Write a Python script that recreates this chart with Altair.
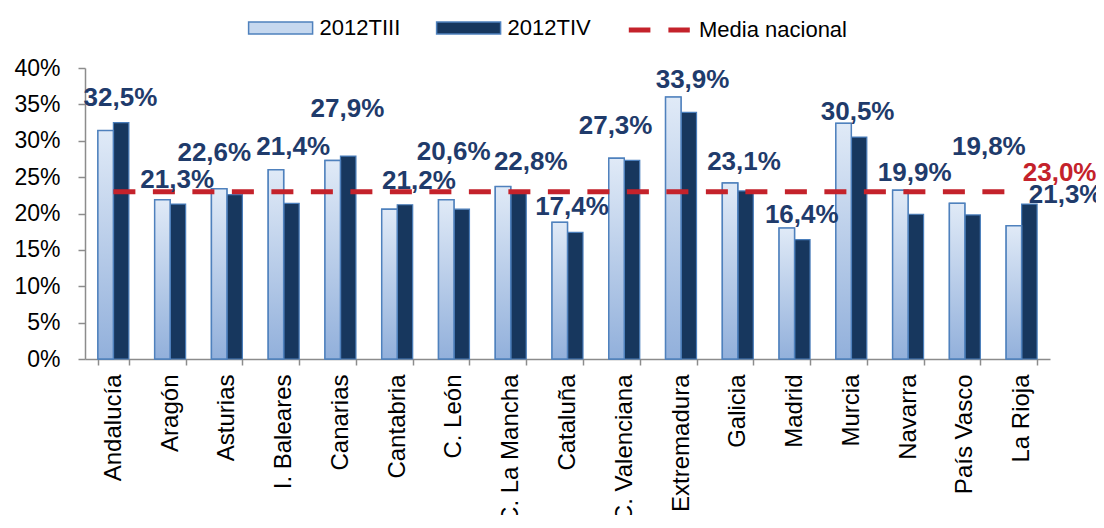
import altair as alt
import pandas as pd

regions = ["Andalucía", "Aragón", "Asturias", "I. Baleares", "Canarias", "Cantabria",
           "C. León", "C. La Mancha", "Cataluña", "C. Valenciana", "Extremadura",
           "Galicia", "Madrid", "Murcia", "Navarra", "País Vasco", "La Rioja"]
t3 = [31.4, 21.9, 23.4, 26.0, 27.3, 20.6, 21.9, 23.7, 18.8, 27.6, 36.0,
      24.2, 18.0, 32.4, 23.2, 21.4, 18.3]
t4 = [32.5, 21.3, 22.6, 21.4, 27.9, 21.2, 20.6, 22.8, 17.4, 27.3, 33.9,
      23.1, 16.4, 30.5, 19.9, 19.8, 21.3]
media = 23.0
series = ["2012TIII", "2012TIV"]
media_name = "Media nacional"

# label placement (in % units on the y scale, and pixel nudges)
label_y = [35.85, 24.6, 28.3, 29.1, 34.3, 24.45, 28.4, 27.1, 20.9, 32.0, 38.3,
           27.1, 19.8, 33.9, 25.5, 29.1, 22.6]
label_dx = [7, 7, -12.6, 9.5, 7, 21.7, -0.3, 20, 4.5, -8.7, 11.5,
            6.2, 7.2, 6.3, 6.6, 24, 44]
media_label_y = 25.6
media_label_dx = 38

FONT = "Liberation Sans"
NAVY = "#17375e"
LABEL_NAVY = "#1f3b6b"
RED = "#c4222b"
GRAY = "#8c8c8c"


def fmt(v):
    return f"{v:.1f}".replace(".", ",") + "%"


rows = []
for r, a, b in zip(regions, t3, t4):
    rows.append({"region": r, "series": series[0], "value": a})
    rows.append({"region": r, "series": series[1], "value": b})
bars_df = pd.DataFrame(rows)
line_df = pd.DataFrame({"region": regions, "media": [media] * len(regions),
                        "s": [media_name] * len(regions)})

xscale = alt.Scale(domain=regions, paddingInner=0.454, paddingOuter=0.227)
yscale = alt.Scale(domain=[0, 40], nice=False)
xoff_scale = alt.Scale(domain=series, paddingInner=0, paddingOuter=0)

x_axis = alt.Axis(title=None, labelAngle=-90, labelFontSize=24, labelFont=FONT,
                  labelColor="black", domainColor=GRAY, tickColor=GRAY,
                  tickSize=6, tickBand="extent", labelPadding=9,
                  labelLimit=400, domainWidth=1.5, tickWidth=1.5)
y_axis = alt.Axis(title=None, values=[0, 5, 10, 15, 20, 25, 30, 35, 40],
                  labelExpr="datum.value + '%'", labelFontSize=23,
                  labelFont=FONT, labelColor="black", grid=False, labelOverlap=False,
                  domainColor=GRAY, tickColor=GRAY, tickSize=7,
                  labelPadding=18, domainWidth=1.5, tickWidth=1.5)


def X():
    return alt.X("region:N", sort=regions, scale=xscale, axis=x_axis)


def Y(field):
    return alt.Y(field, scale=yscale, axis=y_axis)


bars = alt.Chart(bars_df).mark_bar(stroke="#4a7ebb", strokeWidth=1.2).encode(
    x=X(),
    xOffset=alt.XOffset("series:N", scale=xoff_scale),
    y=Y("value:Q"),
    fill=alt.Fill("series:N",
                  scale=alt.Scale(domain=series, range=["#c6d8ef", NAVY]),
                  legend=alt.Legend(title=None, orient="none", legendX=184.6, legendY=-51,
                                    direction="horizontal",
                                    symbolType="M-3.2,-0.6H3.2V0.6H-3.2Z",
                                    symbolSize=400, symbolStrokeColor="#4f81bd",
                                    symbolStrokeWidth=1.5, symbolOpacity=1,
                                    labelFontSize=22, labelFont=FONT, labelColor="black",
                                    labelOffset=28, columnPadding=33, padding=0)),
)

grad = alt.Gradient(gradient="linear",
                    stops=[alt.GradientStop(color="#e0eaf7", offset=0),
                           alt.GradientStop(color="#92b0db", offset=1)],
                    x1=0, x2=0, y1=0, y2=1)
bars_t3 = alt.Chart(bars_df).transform_filter(
    alt.datum.series == series[0]
).mark_bar(fill=grad, stroke="#4f81bd", strokeWidth=1.5).encode(
    x=X(),
    xOffset=alt.XOffset("series:N", scale=xoff_scale),
    y=Y("value:Q"),
)

line = alt.Chart(line_df).mark_line(strokeWidth=5, strokeCap="butt",
                                    strokeDash=[22, 17.5]).encode(
    x=X(),
    y=Y("media:Q"),
    stroke=alt.Stroke("s:N",
                      scale=alt.Scale(domain=[media_name], range=[RED]),
                      legend=alt.Legend(title=None, orient="none", legendX=541.3,
                                        legendY=-71, symbolType="stroke",
                                        symbolSize=3721, symbolStrokeColor=RED,
                                        symbolStrokeWidth=5, symbolDash=[21.6, 18],
                                        labelFontSize=22, labelFont=FONT,
                                        labelColor="black", labelOffset=6.7,
                                        padding=0)),
)

labels = []
for r, v, ly, dx in zip(regions, t4, label_y, label_dx):
    df = pd.DataFrame({"region": [r], "ly": [ly], "txt": [fmt(v)]})
    labels.append(
        alt.Chart(df).mark_text(dx=dx, fontSize=26, fontWeight="bold", font=FONT,
                                color=LABEL_NAVY, baseline="middle").encode(
            x=X(),
            y=Y("ly:Q"),
            text="txt:N",
        )
    )
mdf = pd.DataFrame({"region": [regions[-1]], "ly": [media_label_y], "txt": [fmt(media)]})
labels.append(
    alt.Chart(mdf).mark_text(dx=media_label_dx, fontSize=26, fontWeight="bold", font=FONT,
                             color=RED, baseline="middle").encode(
        x=X(),
        y=Y("ly:Q"),
        text="txt:N",
    )
)

chart = alt.layer(bars, bars_t3, line, *labels).properties(
    width=965, height=291,
    autosize=alt.AutoSizeParams(type="none"),
    padding={"left": 77, "top": 60, "right": 46, "bottom": 156},
).configure_view(stroke=None)

chart.save("out.html", embed_options={"renderer": "svg", "actions": False})
